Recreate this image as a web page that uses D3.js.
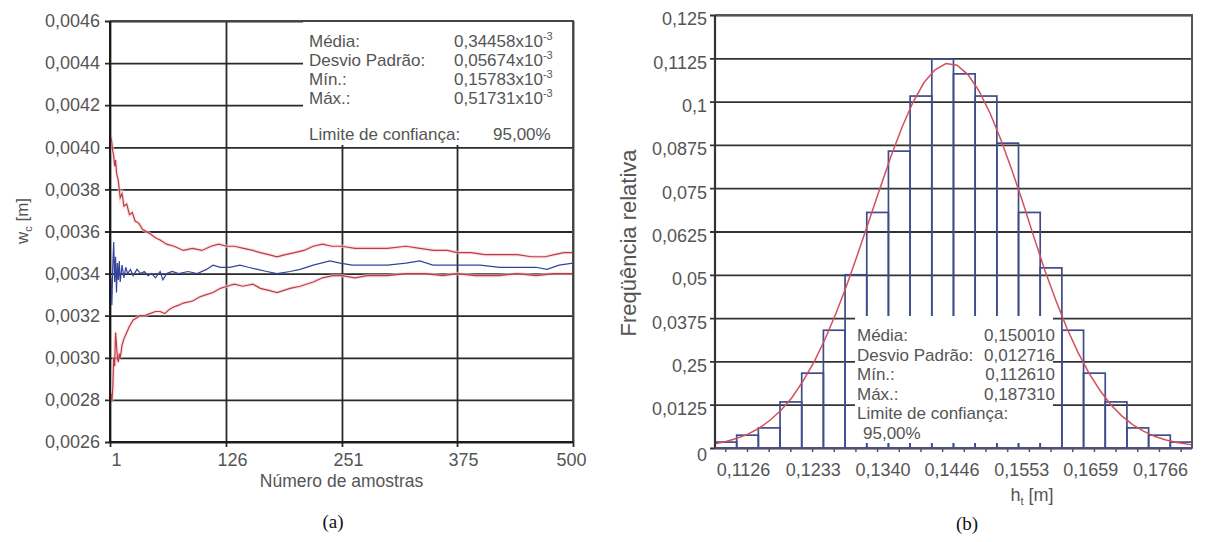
<!DOCTYPE html>
<html>
<head>
<meta charset="utf-8">
<script src="https://cdn.jsdelivr.net/npm/d3@7"></script>
<style>
	body { margin: 0; background: #fff; }
	text { font-family: "Liberation Sans", Arial, sans-serif; fill: #555; }
	.cap { font-family: "Liberation Serif", "Times New Roman", serif; fill: #111; }
</style>
</head>
<body>
<div id="plot"></div>
<script>

// ---------- (a) data: running statistics of w_c vs number of samples
var sampleTicks = [1, 126, 251, 375, 500];
var wTicks = [0.0026, 0.0028, 0.0030, 0.0032, 0.0034, 0.0036, 0.0038, 0.0040, 0.0042, 0.0044, 0.0046];

var wUpper = [[1,0.00400],[2,0.00405],[3,0.00402],[4,0.00398],[5,0.00396],[6,0.00391],[7,0.00394],[8,0.00388],
	[10,0.00384],[12,0.00376],[14,0.00378],[16,0.00372],[19,0.00373],[22,0.00368],[25,0.00369],[28,0.00365],
	[32,0.00364],[36,0.00361],[40,0.00360],[44,0.00359],[50,0.00357],[55,0.00356],[62,0.00354],[70,0.00353],
	[80,0.00351],[90,0.00352],[100,0.00351],[110,0.00353],[118,0.00354],[127,0.00353],[135,0.00353],[145,0.00352],
	[155,0.00351],[163,0.00350],[172,0.00349],[181,0.00348],[190,0.00349],[200,0.00350],[210,0.00351],[220,0.00353],
	[230,0.00354],[240,0.00353],[251,0.00353],[265,0.00352],[280,0.00352],[300,0.00352],[320,0.00353],[335,0.00352],
	[350,0.00351],[365,0.00351],[375,0.00350],[390,0.00350],[405,0.00349],[420,0.00349],[440,0.00349],[455,0.00348],
	[470,0.00348],[480,0.00349],[490,0.00350],[500,0.00350]];

var wMean = [[1,0.00320],[2,0.00338],[3,0.00325],[4,0.00344],[5,0.00355],[6,0.00336],[7,0.00348],[8,0.00331],
	[9,0.00345],[10,0.00337],[11,0.00346],[12,0.00336],[14,0.00344],[16,0.00338],[18,0.00343],[20,0.00340],
	[23,0.00342],[26,0.00339],[30,0.00342],[34,0.00340],[38,0.00341],[42,0.00339],[46,0.00340],[50,0.00338],
	[55,0.00341],[58,0.00337],[62,0.00340],[68,0.00341],[75,0.00340],[85,0.00341],[95,0.00340],[105,0.00342],
	[112,0.00344],[120,0.00343],[130,0.00343],[141,0.00344],[150,0.00343],[160,0.00342],[170,0.00341],[181,0.00340],
	[195,0.00341],[206,0.00342],[220,0.00344],[238,0.00346],[249,0.00345],[262,0.00344],[278,0.00344],[300,0.00344],
	[320,0.00345],[335,0.00346],[349,0.00344],[375,0.00344],[400,0.00344],[421,0.00343],[445,0.00343],[460,0.00343],
	[472,0.00342],[485,0.00344],[500,0.00345]];

var wLower = [[1,0.00280],[2,0.00283],[3,0.00279],[4,0.00286],[5,0.00300],[6,0.00296],[7,0.00312],[8,0.00306],
	[9,0.00300],[10,0.00298],[11,0.00302],[12,0.00300],[14,0.00306],[16,0.00309],[19,0.00312],[22,0.00315],
	[26,0.00318],[30,0.00319],[33,0.00320],[38,0.00320],[44,0.00321],[50,0.00322],[55,0.00322],[60,0.00321],
	[65,0.00323],[69,0.00324],[75,0.00325],[80,0.00326],[90,0.00327],[98,0.00329],[105,0.00330],[112,0.00331],
	[120,0.00333],[127,0.00334],[135,0.00335],[144,0.00334],[155,0.00335],[163,0.00333],[172,0.00332],[181,0.00331],
	[195,0.00333],[206,0.00334],[220,0.00336],[230,0.00338],[241,0.00339],[251,0.00339],[265,0.00338],[278,0.00339],
	[300,0.00339],[320,0.00340],[340,0.00340],[360,0.00339],[375,0.00340],[395,0.00339],[420,0.00339],[440,0.00340],
	[460,0.00339],[480,0.00340],[500,0.00340]];

var statLabelsA = ["Média:", "Desvio Padrão:", "Mín.:", "Máx.:"];
var statValuesA = ["0,34458x10", "0,05674x10", "0,15783x10", "0,51731x10"];

// ---------- (b) data: histogram of h_t
var hTicks = [0.1126, 0.1233, 0.1340, 0.1446, 0.1553, 0.1659, 0.1766];
var hTickLabels = ["0,1126", "0,1233", "0,1340", "0,1446", "0,1553", "0,1659", "0,1766"];
var fTicks = [0, 0.0125, 0.025, 0.0375, 0.05, 0.0625, 0.075, 0.0875, 0.1, 0.1125, 0.125];
var fTickLabels = ["0", "0,0125", "0,25", "0,0375", "0,05", "0,0625", "0,075", "0,0875", "0,1", "0,1125", "0,125"];

var binStart = 0.1083, binWidth = 0.003327;
var binFreq = [0.0017, 0.0037, 0.0058, 0.0133, 0.0216, 0.0340, 0.0500, 0.0680, 0.0857, 0.1016, 0.1123,
	0.1080, 0.1016, 0.0880, 0.0680, 0.0520, 0.0340, 0.0216, 0.0133, 0.0058, 0.0037, 0.0017];

var curveH = [0.10830, 0.10999, 0.11168, 0.11336, 0.11505, 0.11674, 0.11843, 0.12012, 0.12180, 0.12349,
	0.12518, 0.12687, 0.12856, 0.13024, 0.13193, 0.13362, 0.13531, 0.13700, 0.13868, 0.14037, 0.14206,
	0.14375, 0.14544, 0.14712, 0.14881, 0.15050, 0.15219, 0.15388, 0.15556, 0.15725, 0.15894, 0.16063,
	0.16232, 0.16400, 0.16569, 0.16738, 0.16907, 0.17076, 0.17244, 0.17413, 0.17582, 0.17751, 0.17920, 0.18150];
var curveF = [0.0012, 0.0019, 0.0028, 0.0040, 0.0057, 0.0080, 0.0109, 0.0146, 0.0193, 0.0248,
	0.0314, 0.0389, 0.0472, 0.0562, 0.0656, 0.0750, 0.0842, 0.0926, 0.0998, 0.1055, 0.1092,
	0.1110, 0.1105, 0.1078, 0.1031, 0.0967, 0.0889, 0.0801, 0.0708, 0.0608, 0.0512, 0.0425,
	0.0345, 0.0276, 0.0216, 0.0166, 0.0124, 0.0092, 0.0067, 0.0048, 0.0033, 0.0023, 0.0016, 0.0009];

var statLabelsB = ["Média:", "Desvio Padrão:", "Mín.:", "Máx.:"];
var statValuesB = ["0,150010", "0,012716", "0,112610", "0,187310"];

var comma = function(d){ return String(d).replace(".", ","); };

var svg = d3.select("#plot")
	.append("svg")
	.attr("width", 1205)
	.attr("height", 542);

// ================= chart (a) =================
var a = {left: 110, right: 573, top: 21, bottom: 442};
var xa = d3.scaleLinear().domain([1, 500]).range([a.left, a.right]);
var ya = d3.scaleLinear().domain([0.0026, 0.0046]).range([a.bottom, a.top]);

// horizontal grid + y labels
var yAxisA = svg.append("g")
	.attr("transform", "translate(" + (a.left - 5) + ",0)")
	.call(d3.axisLeft(ya).tickValues(wTicks).tickFormat(d => comma(d3.format(".4f")(d)))
		.tickSize(-(a.right - a.left + 5)).tickPadding(5));
yAxisA.select(".domain").remove();
yAxisA.selectAll("line").attr("stroke", "#2a2a2a").attr("stroke-width", 1.8);
yAxisA.selectAll("text").style("font-size", "18px").attr("fill", "#555");

// vertical grid + x labels
var xAxisA = svg.append("g")
	.attr("transform", "translate(0," + (a.bottom + 5) + ")")
	.call(d3.axisBottom(xa).tickValues(sampleTicks).tickFormat(d3.format("d"))
		.tickSize(-(a.bottom - a.top + 5)).tickPadding(6));
xAxisA.select(".domain").remove();
xAxisA.selectAll("line").attr("stroke", "#2a2a2a").attr("stroke-width", 1.8);
xAxisA.selectAll("text").style("font-size", "18px").attr("fill", "#555")
	.attr("dx", d => d === 500 ? -2 : 6);

// series
var lineA = d3.line().x(d => xa(d[0])).y(d => ya(d[1]));
[wUpper, wLower].forEach(function(s){
	svg.append("path").datum(s).attr("d", lineA)
		.attr("fill", "none").attr("stroke", "#f4d0d3").attr("stroke-width", 3.5).attr("opacity", 0.6);
});
[wUpper, wLower].forEach(function(s){
	svg.append("path").datum(s).attr("d", lineA)
		.attr("fill", "none").attr("stroke", "#c23a44").attr("stroke-width", 1.2);
});
svg.append("path").datum(wMean).attr("d", lineA)
	.attr("fill", "none").attr("stroke", "#33449a").attr("stroke-width", 1.2);

// statistics box
svg.append("rect")
	.attr("x", 303).attr("y", a.top + 1)
	.attr("width", a.right - 303).attr("height", 123)
	.attr("fill", "#fff");
var statA = svg.append("g").style("font-size", "17px");
statA.selectAll(".lab").data(statLabelsA).enter().append("text")
	.attr("x", 309).attr("y", (d, i) => 47 + i * 19)
	.text(d => d);
var valA = statA.selectAll(".val").data(statValuesA).enter().append("text")
	.attr("x", 454).attr("y", (d, i) => 47 + i * 19);
valA.append("tspan").text(d => d);
valA.append("tspan").attr("dy", -7).style("font-size", "11px").text("-3");
statA.append("text").attr("x", 309).attr("y", 140).text("Limite de confiança:");
statA.append("text").attr("x", 493).attr("y", 140).text("95,00%");

// frame
svg.append("path")
	.attr("d", "M" + a.left + "," + a.top + "H" + a.right + "V" + a.bottom)
	.attr("fill", "none").attr("stroke", "#444").attr("stroke-width", 1.8);
svg.append("path")
	.attr("d", "M" + a.left + "," + a.top + "V" + a.bottom + "H" + a.right)
	.attr("fill", "none").attr("stroke", "#1a1a1a").attr("stroke-width", 2);

// axis titles
svg.append("text")
	.attr("x", xa(250.5)).attr("y", 487)
	.attr("text-anchor", "middle").style("font-size", "17.5px")
	.text("Número de amostras");
var wt = svg.append("text")
	.attr("transform", "translate(22,221) rotate(-90)")
	.attr("text-anchor", "middle").attr("dy", "0.35em").style("font-size", "17px");
wt.append("tspan").text("w");
wt.append("tspan").attr("dy", 4).style("font-size", "11px").text("c");
wt.append("tspan").attr("dy", -4).text(" [m]");

svg.append("text").attr("class", "cap")
	.attr("x", 333).attr("y", 528).attr("text-anchor", "middle")
	.style("font-size", "19px").text("(a)");

// ================= chart (b) =================
var b = {left: 715, right: 1192, top: 15, bottom: 448};
var xb = d3.scaleLinear().domain([0.1083, 0.1815]).range([b.left, b.right]);
var yb = d3.scaleLinear().domain([0, 0.125]).range([b.bottom, b.top]);

var yAxisB = svg.append("g")
	.attr("transform", "translate(" + (b.left - 5) + ",0)")
	.call(d3.axisLeft(yb).tickValues(fTicks).tickFormat((d, i) => fTickLabels[i])
		.tickSize(-(b.right - b.left + 5)).tickPadding(3));
yAxisB.select(".domain").remove();
yAxisB.selectAll("line").attr("stroke", "#333").attr("stroke-width", 1.8);
yAxisB.selectAll("text").style("font-size", "18px").attr("fill", "#555")
	.attr("dy", d => d === 0 ? "0.72em" : "0.55em");

// bars
var bins = binFreq.map((f, i) => ({x0: binStart + i * binWidth, x1: binStart + (i + 1) * binWidth, f: f}));
svg.append("g").selectAll("rect").data(bins).enter().append("rect")
	.attr("x", d => xb(d.x0))
	.attr("width", d => xb(d.x1) - xb(d.x0))
	.attr("y", d => yb(d.f))
	.attr("height", d => yb(0) - yb(d.f))
	.attr("fill", "none")
	.attr("stroke", "#3f4c8c")
	.attr("stroke-width", 1.7);

// statistics box
svg.append("rect")
	.attr("x", 855).attr("y", 316)
	.attr("width", 198).attr("height", 127)
	.attr("fill", "#fff");
var statB = svg.append("g").style("font-size", "17px");
statB.selectAll(".lab").data(statLabelsB).enter().append("text")
	.attr("x", 857).attr("y", (d, i) => 341 + i * 19.5)
	.text(d => d);
statB.selectAll(".val").data(statValuesB).enter().append("text")
	.attr("x", 1055).attr("y", (d, i) => 341 + i * 19.5)
	.attr("text-anchor", "end")
	.text(d => d);
statB.append("text").attr("x", 857).attr("y", 419).text("Limite de confiança:");
statB.append("text").attr("x", 863).attr("y", 438.5).text("95,00%");

// fitted curve
var curveB = d3.line().x(d => xb(d[0])).y(d => yb(d[1]));
svg.append("path").datum(curveH.map((h, i) => [h, curveF[i]]))
	.attr("d", curveB)
	.attr("fill", "none").attr("stroke", "#d2505c").attr("stroke-width", 1.5);

// frame and axes
svg.append("path")
	.attr("d", "M" + b.left + "," + b.top + "H" + b.right + "V" + b.bottom)
	.attr("fill", "none").attr("stroke", "#555").attr("stroke-width", 2);
svg.append("line")
	.attr("x1", b.left).attr("x2", b.left).attr("y1", b.top).attr("y2", b.bottom)
	.attr("stroke", "#333").attr("stroke-width", 2.2);
svg.append("line")
	.attr("x1", b.left).attr("x2", b.right).attr("y1", b.bottom).attr("y2", b.bottom)
	.attr("stroke", "#4a4f8a").attr("stroke-width", 2.2);

// small ticks at bin centres
svg.append("g").selectAll("line").data(bins).enter().append("line")
	.attr("x1", d => xb((d.x0 + d.x1) / 2)).attr("x2", d => xb((d.x0 + d.x1) / 2))
	.attr("y1", b.bottom).attr("y2", b.bottom + 4)
	.attr("stroke", "#555").attr("stroke-width", 1.5);

var xAxisB = svg.append("g")
	.attr("transform", "translate(0," + b.bottom + ")")
	.call(d3.axisBottom(xb).tickValues(hTicks).tickFormat((d, i) => hTickLabels[i])
		.tickSize(0).tickPadding(15));
xAxisB.select(".domain").remove();
xAxisB.selectAll("text").style("font-size", "18px").attr("fill", "#555");

// axis titles
var ht = svg.append("text")
	.attr("x", 1032).attr("y", 501)
	.attr("text-anchor", "middle").style("font-size", "18px");
ht.append("tspan").text("h");
ht.append("tspan").attr("dy", 4).style("font-size", "11px").text("t");
ht.append("tspan").attr("dy", -4).text(" [m]");

svg.append("text")
	.attr("transform", "translate(628,243) rotate(-90)")
	.attr("text-anchor", "middle").attr("dy", "0.35em")
	.style("font-size", "22px")
	.text("Freqüência relativa");

svg.append("text").attr("class", "cap")
	.attr("x", 967).attr("y", 530).attr("text-anchor", "middle")
	.style("font-size", "19px").text("(b)");

</script>
</body>
</html>
